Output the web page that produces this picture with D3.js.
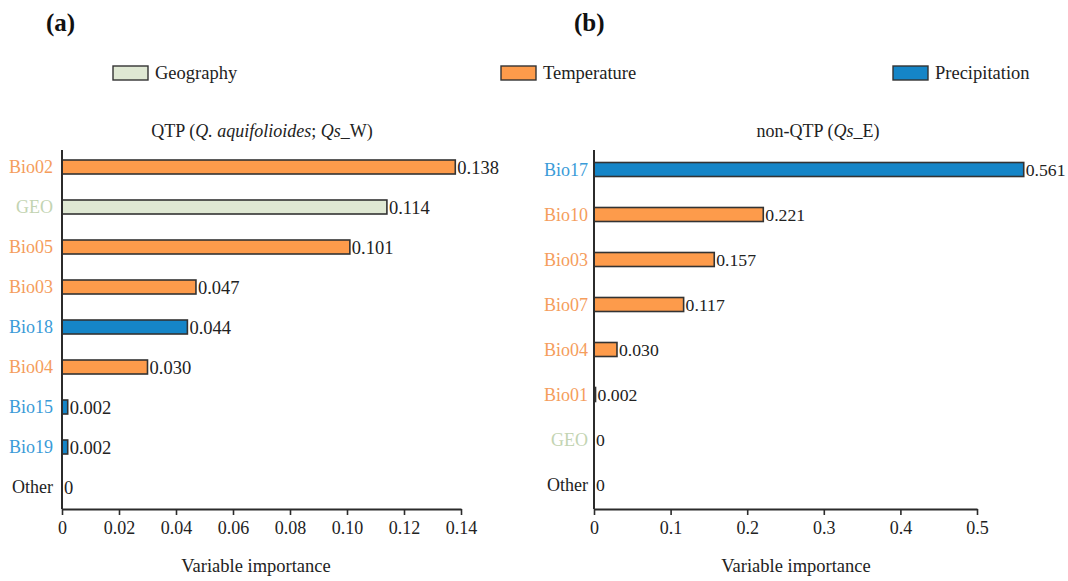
<!DOCTYPE html>
<html>
<head>
<meta charset="utf-8">
<script src="https://cdn.jsdelivr.net/npm/d3@7/dist/d3.min.js"></script>
<style>
  html, body { margin: 0; padding: 0; background: #fff; }
  svg { display: block; }
  svg text { font-family: "Liberation Serif", "Times New Roman", serif; fill: #222; }
</style>
</head>
<body>
<svg id="chart" width="1068" height="581"></svg>
<script>
// Panel (a): QTP
const catsA = ["Bio02", "GEO", "Bio05", "Bio03", "Bio18", "Bio04", "Bio15", "Bio19", "Other"];
const valsA = [0.138, 0.114, 0.101, 0.047, 0.044, 0.030, 0.002, 0.002, 0];
const labelsA = ["0.138", "0.114", "0.101", "0.047", "0.044", "0.030", "0.002", "0.002", "0"];
const groupsA = ["Temperature", "Geography", "Temperature", "Temperature", "Precipitation",
                 "Temperature", "Precipitation", "Precipitation", "Other"];
const ticksA = [0, 0.02, 0.04, 0.06, 0.08, 0.10, 0.12, 0.14];
const tickLabelsA = ["0", "0.02", "0.04", "0.06", "0.08", "0.10", "0.12", "0.14"];

// Panel (b): non-QTP
const catsB = ["Bio17", "Bio10", "Bio03", "Bio07", "Bio04", "Bio01", "GEO", "Other"];
const valsB = [0.561, 0.221, 0.157, 0.117, 0.030, 0.002, 0, 0];
const labelsB = ["0.561", "0.221", "0.157", "0.117", "0.030", "0.002", "0", "0"];
const groupsB = ["Precipitation", "Temperature", "Temperature", "Temperature", "Temperature",
                 "Temperature", "Geography", "Other"];
const ticksB = [0, 0.1, 0.2, 0.3, 0.4, 0.5];
const tickLabelsB = ["0", "0.1", "0.2", "0.3", "0.4", "0.5"];

const legendGroups = ["Geography", "Temperature", "Precipitation"];

const fillColor = { Geography: "#dfe8d3", Temperature: "#fd9b4b", Precipitation: "#1585c7", Other: "#ffffff" };
const textColor = { Geography: "#c3d4b2", Temperature: "#f59d5c", Precipitation: "#3a9bd8", Other: "#222222" };

const svg = d3.select("#chart");
const axisColor = "#2b2b2b";

function panel(opts) {
  const g = svg.append("g");
  const x = d3.scaleLinear().domain(opts.domain).range(opts.xRange);
  const y = d3.scaleBand().domain(opts.cats).range([147, 507]);
  const baseY = 509;
  const barH = 14;

  // panel letter
  g.append("text").attr("x", opts.letterX).attr("y", 31)
    .style("font-size", "25px").style("font-weight", "bold").style("fill", "#111")
    .text(opts.letter);

  // subtitle
  const sub = g.append("text")
    .attr("x", opts.subX).attr("y", 137)
    .attr("text-anchor", "middle").style("font-size", "18px");
  opts.subtitle.forEach(p => {
    sub.append("tspan").style("font-style", p.i ? "italic" : "normal").text(p.t);
  });

  // bars
  const data = opts.cats.map((c, i) => ({ c, v: opts.vals[i], lab: opts.labels[i], grp: opts.groups[i] }));
  g.selectAll("rect.bar").data(data.filter(d => d.v > 0)).join("rect")
    .attr("class", "bar")
    .attr("x", x(0))
    .attr("y", d => y(d.c) + y.bandwidth() / 2 - barH / 2)
    .attr("width", d => x(d.v) - x(0))
    .attr("height", barH)
    .attr("fill", d => fillColor[d.grp])
    .attr("stroke", "#333")
    .attr("stroke-width", 1.6);

  // value labels
  g.selectAll("text.val").data(data).join("text")
    .attr("class", "val")
    .attr("x", d => x(d.v) + 2)
    .attr("y", d => y(d.c) + y.bandwidth() / 2)
    .attr("dy", "0.36em")
    .style("font-size", opts.valSize)
    .text(d => d.lab);

  // category labels
  g.selectAll("text.cat").data(data).join("text")
    .attr("class", "cat")
    .attr("x", x(0) - opts.catGap)
    .attr("y", d => y(d.c) + y.bandwidth() / 2)
    .attr("dy", "0.36em")
    .attr("text-anchor", "end")
    .style("font-size", "18px")
    .style("fill", d => textColor[d.grp])
    .text(d => d.c);

  // vertical axis line
  g.append("line")
    .attr("x1", x(0)).attr("x2", x(0)).attr("y1", 150).attr("y2", baseY)
    .attr("stroke", axisColor).attr("stroke-width", 2);

  // bottom axis
  const ax = g.append("g").attr("transform", `translate(0,${baseY})`)
    .call(d3.axisBottom(x).tickValues(opts.ticks)
      .tickFormat((d, i) => opts.tickLabels[i])
      .tickSize(6).tickSizeOuter(0).tickPadding(6));
  ax.attr("font-family", null);
  ax.select(".domain").attr("stroke", axisColor).attr("stroke-width", 2);
  ax.selectAll(".tick line").attr("stroke", axisColor).attr("stroke-width", 1.6);
  ax.selectAll(".tick text").style("font-size", "18px").attr("fill", "#222");

  // axis title
  g.append("text")
    .attr("x", opts.titleX).attr("y", 572)
    .attr("text-anchor", "middle").style("font-size", "18.5px")
    .text("Variable importance");
}

panel({
  letter: "(a)", letterX: 46,
  cats: catsA, vals: valsA, labels: labelsA, groups: groupsA,
  domain: [0, 0.14], xRange: [62, 461],
  ticks: ticksA, tickLabels: tickLabelsA,
  subtitle: [{ t: "QTP (" }, { t: "Q. aquifolioides", i: true }, { t: "; " }, { t: "Qs", i: true }, { t: "_W)" }],
  subX: 262, titleX: 256, catGap: 9, valSize: "18.5px"
});

panel({
  letter: "(b)", letterX: 574,
  cats: catsB, vals: valsB, labels: labelsB, groups: groupsB,
  domain: [0, 0.5], xRange: [594, 977],
  ticks: ticksB, tickLabels: tickLabelsB,
  subtitle: [{ t: "non-QTP (" }, { t: "Qs", i: true }, { t: "_E)" }],
  subX: 818, titleX: 796, catGap: 6, valSize: "17.7px"
});

// legend
const legendX = [113, 501, 893];
const leg = svg.append("g");
legendGroups.forEach((grp, i) => {
  leg.append("rect")
    .attr("x", legendX[i]).attr("y", 66).attr("width", 35).attr("height", 14)
    .attr("fill", fillColor[grp]).attr("stroke", "#333").attr("stroke-width", 1.4);
  leg.append("text")
    .attr("x", legendX[i] + 42).attr("y", 79)
    .style("font-size", "18.5px")
    .text(grp);
});
</script>
</body>
</html>
